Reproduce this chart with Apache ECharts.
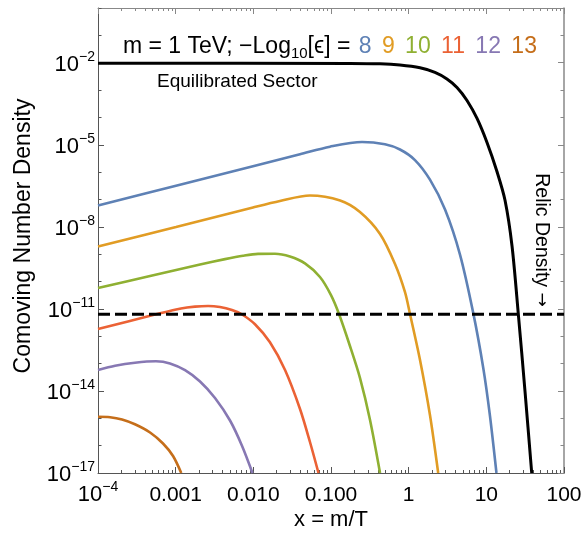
<!DOCTYPE html>
<html><head><meta charset="utf-8">
<script src="https://cdn.jsdelivr.net/npm/echarts@6/dist/echarts.min.js"></script>
<style>html,body{margin:0;padding:0;background:#fff}#c{width:585px;height:535px}</style>
</head><body><div id="c"></div>
<script>
// ---- data (x = m/T, comoving number density) ----
const equilibrated = [[1e-4,9.55e-3],[0.1754,9.4e-3],[0.428,9.08e-3],[0.773,8.2e-3],[1.40,6.49e-3],[2.18,4.44e-3],[3.11,2.55e-3],[4.19,1.245e-3],[5.64,4.17e-4],[7.59,9.16e-5],[10.2,1.21e-5],[13.7,1.057e-6],[17.4,9.35e-8],[21.4,2.03e-9],[25.8,6.56e-12],[31.5,9.46e-15],[38.4,1e-17]];
const eps8 = [[1e-4,6.0e-8],[1.01e-3,3.2e-7],[9.9e-3,1.65e-6],[0.0399,4.5e-6],[0.097,8.5e-6],[0.251,1.26e-5],[0.495,1.04e-5],[0.773,6.7e-6],[1.205,2.76e-6],[1.88,5.3e-7],[2.94,4.3e-8],[4.58,9.7e-10],[6.79,7.0e-12],[9.14,6.8e-14],[11.1,1.32e-15],[13.5,1e-17]];
const eps9 = [[1e-4,1.91e-9],[1.01e-3,9.9e-9],[9.9e-3,5.1e-8],[0.022,8.8e-8],[0.0536,1.4e-7],[0.131,9.2e-8],[0.236,3.5e-8],[0.428,5.5e-9],[0.667,4.4e-10],[0.897,4.1e-11],[1.04,6.5e-12],[1.4,1.36e-13],[1.88,1.32e-15],[2.4,1e-17]];
const eps10 = [[1e-4,5.8e-11],[4.68e-4,1.6e-10],[2.06e-3,4.2e-10],[4.32e-3,6.6e-10],[7.36e-3,8.8e-10],[0.01148,1.03e-9],[0.019,1.04e-9],[0.0296,8.2e-10],[0.0462,4.6e-10],[0.0721,1.47e-10],[0.1,3.2e-11],[0.1268,6.5e-12],[0.1754,4.4e-13],[0.236,3.0e-14],[0.318,8.7e-16],[0.428,1e-17]];
const eps11 = [[1e-4,1.84e-12],[2.43e-4,3.49e-12],[5.42e-4,6.19e-12],[1.17e-3,1.035e-11],[1.77e-3,1.21e-11],[2.61e-3,1.28e-11],[3.72e-3,1.17e-11],[5.31e-3,9.1e-12],[7.0e-3,6.5e-12],[0.0105,2.74e-12],[0.01637,6.0e-13],[0.0256,5.8e-14],[0.0399,2.19e-15],[0.0536,1.36e-16],[0.069,1e-17]];
const eps12 = [[1e-4,5.83e-14],[1.66e-4,8.34e-14],[2.99e-4,1.074e-13],[5.58e-4,1.213e-13],[8.45e-4,1.016e-13],[1.32e-3,5.74e-14],[2.06e-3,2.22e-14],[3.21e-3,5.52e-15],[5.01e-3,8.3e-16],[7.14e-3,9.95e-17],[9.75e-3,1e-17]];
const eps13 = [[1e-4,1.135e-15],[1.43e-4,1.096e-15],[2.04e-4,9.04e-16],[2.99e-4,6.04e-16],[4.68e-4,3.03e-16],[6.87e-4,1.2e-16],[9.25e-4,4.19e-17],[1.18e-3,1e-17]];
const relicDensity = 6.3e-12;
const relicSpan = [1e-4, 100];

const epsLabels = ['8','9','10','11','12','13'];
const epsColors = ['#5E81B5','#E19C24','#8FB032','#EB6235','#8778B3','#C56E1A'];

// ---- axes / ticks ----
const xRange = [1e-4, 100];
const yRange = [1e-17, 1];
const xMajorTicks = [1e-4,1e-3,1e-2,1e-1,1,10,100];
const xTickLabels = ['10^\u22124','0.001','0.010','0.100','1','10','100'];
const xMinorMultipliers = [2,3,4,5,6,7,8,9];
const yDecadeTicks = [1e-17,1e-16,1e-15,1e-14,1e-13,1e-12,1e-11,1e-10,1e-9,1e-8,1e-7,1e-6,1e-5,1e-4,1e-3,1e-2,1e-1,1];
const yLabelTicks = [1e-17,1e-14,1e-11,1e-8,1e-5,1e-2];
const yTickLabels = ['10^\u221217','10^\u221214','10^\u221211','10^\u22128','10^\u22125','10^\u22122'];

const xMinorTicks = [];
xMajorTicks.slice(0, -1).forEach(d => xMinorMultipliers.forEach(m => xMinorTicks.push(+(d * m).toPrecision(6))));

const FONT = '"Liberation Sans", Arial, Helvetica, sans-serif';
const toRich = s => s.indexOf('^') >= 0 ? '{p|' + s.split('^')[0] + '}{s|' + s.split('^')[1] + '}' : '{b|' + s + '}';
const findIdx = (arr, v) => arr.findIndex(t => Math.abs(Math.log10(t) - Math.log10(v)) < 1e-6);
const labelRich = {
  b: {fontSize: 21, fontFamily: FONT, color: '#000', lineHeight: 26, verticalAlign: 'bottom'},
  p: {fontSize: 22, fontFamily: FONT, color: '#000', lineHeight: 26, verticalAlign: 'bottom'},
  s: {fontSize: 14, fontFamily: FONT, color: '#000', lineHeight: 14, verticalAlign: 'top'}
};

const FRAME_DARK = '#555', FRAME_LIGHT = '#888';
function logAxis(range, position, opts) {
  return Object.assign({
    type: 'log', logBase: 10, min: range[0], max: range[1], position: position,
    axisLine: {show: false, onZero: false},
    splitLine: {show: false},
    axisLabel: {show: false},
    axisTick: {show: false}
  }, opts);
}
const tick = (vals, len, color) => ({show: true, inside: true, length: len, customValues: vals, lineStyle: {color: color, width: 1}});

const xAxes = [
  logAxis(xRange, 'bottom', {
    axisLine: {show: true, onZero: false, lineStyle: {color: FRAME_DARK, width: 1}},
    axisTick: tick(xMajorTicks, 6, FRAME_DARK),
    axisLabel: {show: true, customValues: xMajorTicks, margin: 7, rich: labelRich,
      formatter: v => { const i = findIdx(xMajorTicks, v); return i < 0 ? '' : toRich(xTickLabels[i]); }}
  }),
  logAxis(xRange, 'bottom', {axisTick: tick(xMinorTicks, 3, FRAME_DARK)}),
  logAxis(xRange, 'top', {
    axisLine: {show: true, onZero: false, lineStyle: {color: FRAME_LIGHT, width: 1}},
    axisTick: tick(xMajorTicks, 6, FRAME_LIGHT)
  }),
  logAxis(xRange, 'top', {axisTick: tick(xMinorTicks, 3, FRAME_LIGHT)})
];
const yAxes = [
  logAxis(yRange, 'left', {
    axisLine: {show: true, onZero: false, lineStyle: {color: FRAME_DARK, width: 1}},
    axisTick: tick(yLabelTicks, 6, FRAME_DARK),
    axisLabel: {show: true, customValues: yLabelTicks, margin: 3, rich: labelRich,
      formatter: v => { const i = findIdx(yLabelTicks, v); return i < 0 ? '' : toRich(yTickLabels[i]); }}
  }),
  logAxis(yRange, 'left', {axisTick: tick(yDecadeTicks, 3.5, FRAME_DARK)}),
  logAxis(yRange, 'right', {
    axisLine: {show: true, onZero: false, lineStyle: {color: FRAME_LIGHT, width: 1.5}},
    axisTick: tick(yLabelTicks, 6, FRAME_LIGHT)
  }),
  logAxis(yRange, 'right', {axisTick: tick(yDecadeTicks, 3.5, FRAME_LIGHT)})
];

const curve = (name, data, color, width) => ({
  name: name, type: 'line', data: data, xAxisIndex: 0, yAxisIndex: 0,
  showSymbol: false, smooth: 0.3, clip: true,
  lineStyle: {color: color, width: width}, emphasis: {disabled: true}, silent: true
});
const epsSeries = [eps8, eps9, eps10, eps11, eps12, eps13];
const series = epsSeries.map((d, i) => curve('eps' + epsLabels[i], d, epsColors[i], 2.6));
series.push(curve('Equilibrated Sector', equilibrated, '#000', 3));
series.push({
  name: 'Relic Density', type: 'line', xAxisIndex: 0, yAxisIndex: 0, showSymbol: false, silent: true,
  data: relicSpan.map(x => [x, relicDensity]),
  lineStyle: {color: '#000', width: 3, type: [12, 5]}, z: 5
});

// title text with coloured epsilon values
const titleRich = {sub: {fontSize: 15, fontFamily: FONT, fill: '#000', lineHeight: 14, verticalAlign: 'bottom'}};
let titleText = 'm = 1 TeV; \u2212Log{sub|10}[\u03F5] = ';
epsLabels.forEach((l, i) => {
  titleRich['c' + i] = {fontSize: 23, fontFamily: FONT, fill: epsColors[i], lineHeight: 28, padding: [0, 2, 0, 2]};
  titleText += '{c' + i + '|' + l + '}' + (i < epsLabels.length - 1 ? ' ' : '');
});

const chart = echarts.init(document.getElementById('c'), null, {renderer: 'canvas'});
chart.setOption({
  animation: false,
  backgroundColor: '#fff',
  grid: {left: 98, right: 21, top: 8, bottom: 62},
  xAxis: xAxes,
  yAxis: yAxes,
  series: series,
  graphic: [
    {type: 'text', x: 123, y: 47, silent: true, style: {text: titleText, rich: titleRich, fontSize: 23, fontFamily: FONT, fill: '#000', align: 'left', verticalAlign: 'middle', lineHeight: 28}},
    {type: 'text', x: 157, y: 82, silent: true, style: {text: 'Equilibrated Sector', fontSize: 19, fontFamily: FONT, fill: '#000', align: 'left', verticalAlign: 'middle'}},
    {type: 'text', x: 24, y: 236, rotation: Math.PI / 2, silent: true, style: {text: 'Comoving Number Density', fontSize: 23, fontFamily: FONT, fill: '#000', align: 'center', verticalAlign: 'middle'}},
    {type: 'text', x: 331, y: 520, silent: true, style: {text: 'x = m/T', fontSize: 22, fontFamily: FONT, fill: '#000', align: 'center', verticalAlign: 'middle'}},
    {type: 'text', x: 541, y: 240, rotation: -Math.PI / 2, silent: true, style: {text: 'Relic Density {a|\u2192}', fontSize: 19.5, fontFamily: FONT, fill: '#000', align: 'center', verticalAlign: 'middle', lineHeight: 24,
      rich: {a: {fontSize: 17, fontFamily: '"DejaVu Sans", sans-serif', fill: '#000', lineHeight: 24}}}}
  ]
});
</script></body></html>
